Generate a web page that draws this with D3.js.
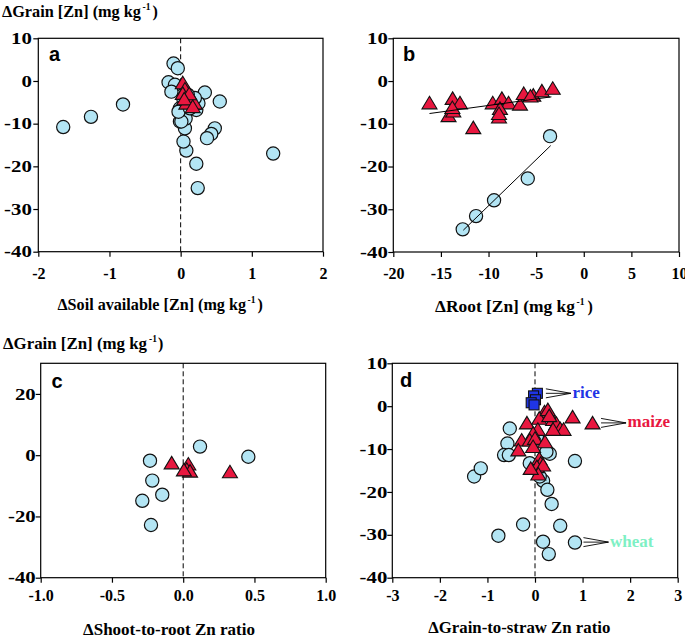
<!DOCTYPE html>
<html><head><meta charset="utf-8">
<script src="https://cdn.jsdelivr.net/npm/d3@7"></script>
<style>body{margin:0;background:#fff}svg{display:block}</style>
</head><body>
<script>
// ---------- DATA ----------
// Panel a: ΔSoil available [Zn] vs ΔGrain [Zn]
const aWheatX = [-1.65,-1.26,-0.81,1.30,0.55,0.34,0.48,0.43,0.37,0.22,0.24,0.08,0.04,0.06,-0.01,0.07,-0.10,-0.04,-0.17,-0.08,-0.13,0.04,-0.01,0.22,0.25,0.01,-0.03,0.13,0.20,0.10];
const aWheatY = [-10.8,-8.4,-5.5,-17.0,-4.8,-2.7,-11.1,-12.4,-13.4,-19.4,-25.1,-16.3,-14.2,-11.1,-9.5,-8.8,4.1,3.0,-0.3,-0.9,-2.5,-4.4,-6.4,-6.8,-5.2,-9.5,-7.2,-6.4,-4.0,-3.2];
const aMaizeX = [0.03,0.06,0.03,0.11,0.15,0.20,0.08,0.12,0.05,0.17];
const aMaizeY = [-0.4,-1.9,-2.9,-3.7,-4.8,-5.2,-5.2,-3.0,-4.2,-6.0];
// Panel b: ΔRoot [Zn]
const bWheatX = [-12.71,-11.31,-9.42,-5.88,-3.54];
const bWheatY = [-34.7,-31.6,-27.9,-22.8,-12.9];
const bMaizeX = [-16.2,-13.77,-13.0,-14.2,-13.7,-13.8,-11.6,-9.56,-8.6,-7.9,-8.8,-8.9,-8.9,-6.7,-6.3,-5.3,-5.6,-4.4,-3.26];
const bMaizeY = [-5.1,-4.05,-5.1,-8.1,-7.0,-6.2,-10.9,-5.1,-4.05,-5.1,-6.4,-8.4,-7.6,-5.4,-2.9,-3.3,-3.5,-2.3,-1.7];
const bFitWheatX = [-12.65,-3.47], bFitWheatY = [-34.9,-15.1];
const bFitMaizeX = [-16.2,-3.4],   bFitMaizeY = [-7.6,-3.7];
// Panel c: ΔShoot-to-root Zn ratio
const cWheatX = [-0.233,-0.217,-0.147,-0.287,-0.226,0.118,0.457];
const cWheatY = [-1.8,-8.3,-12.9,-14.9,-22.8,2.8,-0.5];
const cMaizeX = [-0.081,0.036,0.025,0.048,0.328,0.005];
const cMaizeY = [-2.5,-2.9,-4.6,-5.2,-5.4,-4.8];
// Panel d: ΔGrain-to-straw Zn ratio
const dWheatX = [-1.28,-1.14,-0.53,-0.58,-0.65,-0.55,-0.11,0.17,0.26,0.35,-0.25,0.53,-0.77,0.17,0.84,0.29,0.84,0.31,0.24,0.04,0.10];
const dWheatY = [-16.4,-14.5,-5.2,-8.7,-11.4,-11.4,-13.3,-17.4,-19.5,-22.8,-27.6,-27.9,-30.2,-31.6,-31.8,-34.5,-12.8,-11.1,-10.6,-7.1,-16.4];
const dMaizeX = [0.20,0.79,1.21,-0.17,0.09,0.38,0.45,0.53,0.60,0.38,0.06,-0.04,-0.28,-0.11,0.0,0.21,-0.35,-0.04,0.09,0.12,0.04,0.17,0.07,-0.09,0.27,0.30];
const dMaizeY = [-1.3,-2.5,-3.9,-3.9,-2.8,-3.1,-4.0,-5.2,-5.4,-5.4,-5.4,-6.3,-7.9,-7.9,-7.5,-8.3,-10.2,-9.4,-12.2,-13.3,-14.1,-13.7,-15.8,-14.5,-0.8,-2.2];
const dRiceX = [0.05,-0.03,0.01,-0.08,-0.02];
const dRiceY = [3.0,2.4,1.5,0.8,0.3];
const annLabels = ["rice","maize","wheat"];
const annX = [0.05,1.21,0.84];
const annY = [3.0,-3.9,-31.7];
// tick values
const aXTicks=[-2,-1,0,1,2], bXTicks=[-20,-15,-10,-5,0,5,10], cXTicks=[-1,-0.5,0,0.5,1], dXTicks=[-3,-2,-1,0,1,2,3];
const yTicks50=[10,0,-10,-20,-30,-40], cYTicks=[20,0,-20,-40];

// ---------- DRAW ----------
const W=685,H=638;
const svg=d3.select('body').append('svg').attr('width',W).attr('height',H);
const SERIF='"Liberation Serif","DejaVu Serif",serif';
const SANS='"Liberation Sans",Arial,sans-serif';
const C_WHEAT='#b3e5f4', C_MAIZE='#e8173f', C_RICE='#1f35e6', C_WHEAT_TXT='#7ef0c4';
const zip=(X,Y)=>X.map((v,i)=>[v,Y[i]]);

function panel(cfg){
  const x=d3.scaleLinear().domain(cfg.xd).range([cfg.l,cfg.r]);
  const y=d3.scaleLinear().domain(cfg.yd).range([cfg.b,cfg.t]);
  const g=svg.append('g');
  const xa=g.append('g').attr('transform',`translate(0,${cfg.b})`)
    .call(d3.axisBottom(x).tickValues(cfg.xt).tickSize(5).tickPadding(cfg.xpad).tickFormat(cfg.fmt));
  const ya=g.append('g').attr('transform',`translate(${cfg.l},0)`)
    .call(d3.axisLeft(y).tickValues(cfg.yt).tickSize(5).tickPadding(cfg.ypad).tickFormat(d=>String(d)));
  [xa,ya].forEach(a=>{a.select('.domain').remove();
    a.attr('font-family',SERIF);
    a.selectAll('line').attr('stroke','#000').attr('stroke-width',1.2);
    a.selectAll('text').attr('font-family',SERIF).attr('font-weight','bold').attr('font-size',16).attr('fill','#000');});
  // horizontally widened y tick labels (as in the reference)
  ya.selectAll('text').attr('x',0).attr('transform',`translate(${-(5+cfg.ypad)},0) scale(1.3,1)`);
  g.append('rect').attr('x',cfg.l).attr('y',cfg.t).attr('width',cfg.r-cfg.l).attr('height',cfg.b-cfg.t)
    .attr('fill','none').attr('stroke','#000').attr('stroke-width',1.2);
  if(cfg.dash) g.append('line').attr('x1',x(0)).attr('x2',x(0)).attr('y1',cfg.t).attr('y2',cfg.b)
    .attr('stroke','#000').attr('stroke-width',1).attr('stroke-dasharray','5,3');
  g.append('text').attr('x',cfg.lx).attr('y',cfg.ly).text(cfg.id)
    .attr('font-family',SANS).attr('font-weight','bold').attr('font-size',20);
  return {x,y,g};
}
function circles(p,pts){
  p.g.append('g').selectAll('circle').data(pts).join('circle')
    .attr('cx',d=>p.x(d[0])).attr('cy',d=>p.y(d[1])).attr('r',6.6)
    .attr('fill',C_WHEAT).attr('stroke','#111').attr('stroke-width',1.2);
}
function triangles(p,pts){
  p.g.append('g').selectAll('path').data(pts).join('path')
    .attr('d','M0,-6.5L7.5,6L-7.5,6Z').attr('transform',d=>`translate(${p.x(d[0])},${p.y(d[1])})`)
    .attr('fill',C_MAIZE).attr('stroke','#111').attr('stroke-width',1.1).attr('stroke-linejoin','miter');
}
function squares(p,pts){
  p.g.append('g').selectAll('rect').data(pts).join('rect')
    .attr('x',d=>p.x(d[0])-5).attr('y',d=>p.y(d[1])-5).attr('width',10).attr('height',10)
    .attr('fill',C_RICE).attr('stroke','#111').attr('stroke-width',1.1);
}
function fit(p,X,Y){
  p.g.append('path').attr('d',d3.line().x(d=>p.x(d[0])).y(d=>p.y(d[1]))(zip(X,Y)))
    .attr('stroke','#000').attr('stroke-width',1).attr('fill','none');
}
function title(x,base,main,len,supX,closeX){
  const t=svg.append('g').attr('font-family',SERIF).attr('font-weight','bold').attr('fill','#000');
  t.append('text').attr('x',x).attr('y',base).attr('font-size',16).attr('textLength',len).attr('lengthAdjust','spacingAndGlyphs').text(main);
  if(supX!=null){
    t.append('text').attr('x',supX).attr('y',base-7).attr('font-size',9.5).text('-1');
    t.append('text').attr('x',closeX).attr('y',base).attr('font-size',16).text(')');
  }
}
const fInt=d=>String(d), f1=d=>d.toFixed(1);
const pa=panel({id:'a',l:38.3,r:323,t:38.3,b:251.7,xd:[-2,2],yd:[-40,10],xt:aXTicks,yt:yTicks50,fmt:fInt,xpad:11,ypad:1.5,dash:true,lx:49,ly:60.5});
const pb=panel({id:'b',l:393.3,r:679,t:38.3,b:252,xd:[-20,10],yd:[-40,10],xt:bXTicks,yt:yTicks50,fmt:fInt,xpad:11,ypad:0.5,dash:false,lx:403,ly:61});
const pc=panel({id:'c',l:40.7,r:325.7,t:363.3,b:577.7,xd:[-1,1],yd:[-40,30],xt:cXTicks,yt:cYTicks,fmt:f1,xpad:7,ypad:0,dash:true,lx:51.5,ly:387.5});
const pd=panel({id:'d',l:392.3,r:677.7,t:363.3,b:577.7,xd:[-3,3],yd:[-40,10],xt:dXTicks,yt:yTicks50,fmt:fInt,xpad:7,ypad:0,dash:true,lx:400,ly:387});

circles(pa,zip(aWheatX,aWheatY)); triangles(pa,zip(aMaizeX,aMaizeY));
triangles(pb,zip(bMaizeX,bMaizeY)); circles(pb,zip(bWheatX,bWheatY));
fit(pb,bFitMaizeX,bFitMaizeY); fit(pb,bFitWheatX,bFitWheatY);
circles(pc,zip(cWheatX,cWheatY)); triangles(pc,zip(cMaizeX,cMaizeY));
circles(pd,zip(dWheatX,dWheatY)); triangles(pd,zip(dMaizeX,dMaizeY)); squares(pd,zip(dRiceX,dRiceY));

// annotations in d
const annColors=[C_RICE,C_MAIZE,C_WHEAT_TXT];
annLabels.forEach((lab,i)=>{
  const px=pd.x(annX[i])+8.5, py=pd.y(annY[i]), x1=px+25;
  [-4.5,0,4.5].forEach(o=>pd.g.append('line').attr('x1',px).attr('y1',py+o).attr('x2',x1).attr('y2',py)
    .attr('stroke','#000').attr('stroke-width',0.9));
  pd.g.append('text').attr('x',x1+1.5).attr('y',py+4.5).text(lab).attr('fill',annColors[i])
    .attr('font-family',SERIF).attr('font-weight','bold').attr('font-size',17);
});

// axis titles
title(2,17,'ΔGrain [Zn] (mg kg',139,142.5,152.5);
title(3,348.5,'ΔGrain [Zn] (mg kg',144,149,158);
title(57.5,310,'ΔSoil available [Zn] (mg kg',188.5,247.5,257.5);
title(435,312,'ΔRoot [Zn] (mg kg',140,576.5,587.5);
title(83,635,'ΔShoot-to-root  Zn ratio',172,null,null);
title(428.3,633,'ΔGrain-to-straw Zn ratio',182,null,null);
</script>
</body></html>
